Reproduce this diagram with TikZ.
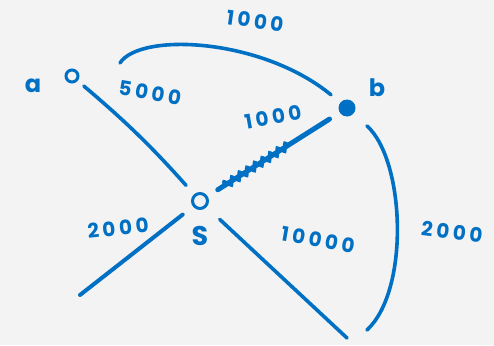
\documentclass[tikz,border=0pt]{standalone}
\usepackage{fontspec}
\setmainfont{Poppins}
\usetikzlibrary{decorations.pathmorphing, calc}
\definecolor{pen}{RGB}{0,112,196}
\definecolor{paper}{RGB}{243,243,243}

\begin{document}
\begin{tikzpicture}[
    x=1pt, y=-1pt,
    edge/.style={draw=pen, line width=3.6pt, line cap=round},
    hollow/.style={circle, draw=pen, line width=3pt, fill=paper, inner sep=0pt, minimum size=12pt},
    solid/.style={circle, fill=pen, inner sep=0pt, minimum size=17pt},
    lbl/.style={text=pen, font=\fontsize{20}{20}\selectfont\bfseries\addfontfeature{LetterSpace=18}},
    letter/.style={text=pen, font=\fontsize{24}{24}\selectfont\bfseries}
  ]
    \fill[paper] (0,0) rectangle (494,345);
    \useasboundingbox (0,0) rectangle (494,345);

    \node[hollow] (a) at (72,76) {};
    \node[solid] (b) at (347,108) {};
    \node[hollow, minimum size=15pt] (S) at (200,201) {};

    \coordinate (arcstart) at (120,63);
    \coordinate (sw) at (80,295);
    \coordinate (se) at (347,338);
    \coordinate (bottom) at (367,330);

    \node[letter] (la) at (33,86) {a};
    \node[letter] (lb) at (377,88) {b};
    \node[letter, font=\fontsize{27}{27}\selectfont\bfseries] (lS) at (200,236) {S};
    \node[lbl, rotate=-10] (wab) at (150,93) {5000};
    \node[lbl, rotate=-8] (wtop) at (255,21) {1000};
    \node[lbl, rotate=10] (wsb) at (273,117) {1000};
    \node[lbl, rotate=6] (wsw) at (118,228) {2000};
    \node[lbl, rotate=-10] (wse) at (318,240) {10000};
    \node[lbl, rotate=-7] (wright) at (452,232) {2000};

    % edges
    \draw[edge, shorten <=8pt, shorten >=12pt] (a) to[bend left=4] (S);
    \draw[edge, shorten >=12pt] (arcstart) .. controls (140,32) and (262,38) .. (b);
    \draw[edge, line width=5pt, shorten <=12pt, shorten >=12pt] (S) -- (b);
    \draw[edge, line width=2.6pt, decorate, decoration={snake, amplitude=4pt, segment length=9pt}]
      ($(S)!0.16!(b)$) -- ($(S)!0.62!(b)$);
    \draw[edge, line width=4pt, shorten <=13pt] (S) -- (sw);
    \draw[edge, shorten <=18pt] (S) -- (se);
    \draw[edge, shorten <=18pt] (b) .. controls (405,160) and (410,290) .. (bottom);
\end{tikzpicture}
\end{document}
